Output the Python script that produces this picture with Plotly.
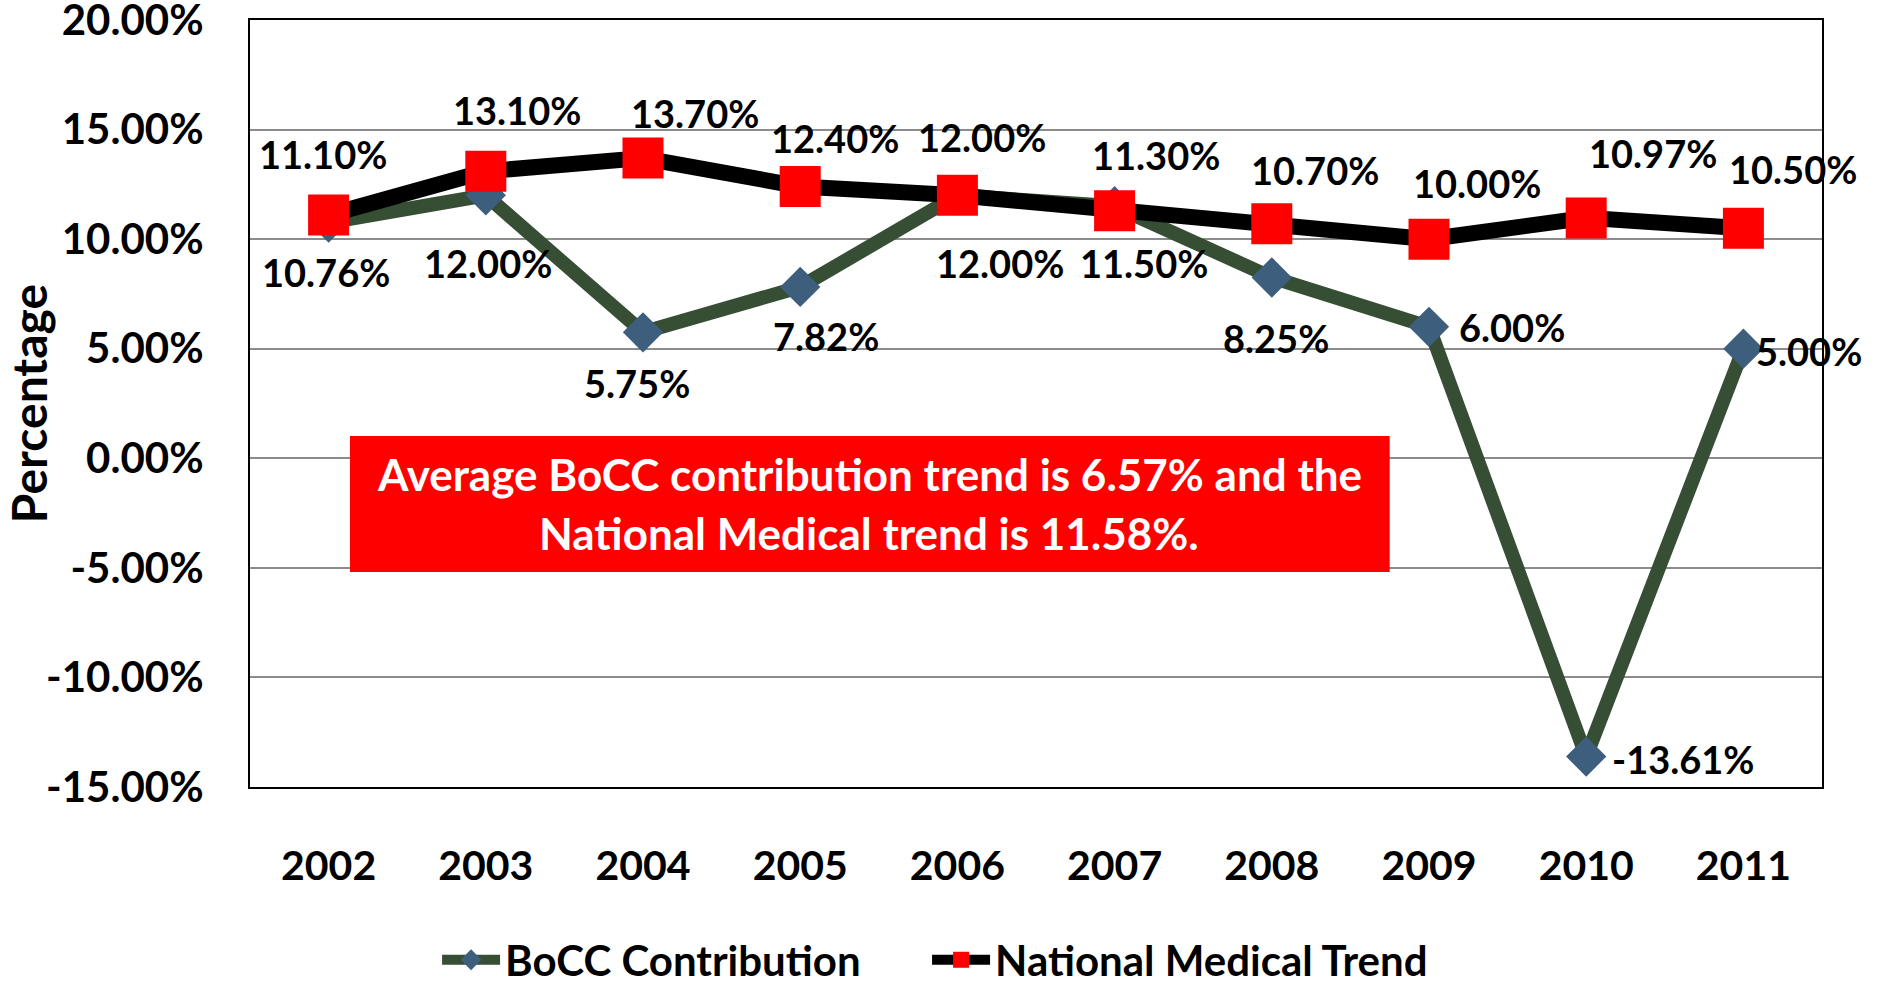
import plotly.graph_objects as go

years = [2002, 2003, 2004, 2005, 2006, 2007, 2008, 2009, 2010, 2011]
bocc = [10.76, 12.00, 5.75, 7.82, 12.00, 11.50, 8.25, 6.00, -13.61, 5.00]
national = [11.10, 13.10, 13.70, 12.40, 12.00, 11.30, 10.70, 10.00, 10.97, 10.50]
y_ticks = [-15, -10, -5, 0, 5, 10, 15, 20]

# label offsets (pixels) relative to each point
nat_dx = [-6, 31, 52, 35, 25, 41, 43, 48, 67, 50]
nat_dy = [61, 61, 45, 49, 58, 56, 54, 56, 65, 59]
bocc_dx = [-3, 2, -6, 26, 43, 29, 4, 83, 97, 66]
bocc_dy = [-50, -68, -51, -49, -68, -57, -61, 0, -2, -2]

FONT = "Lato"
LEG_FONT = dict(family=FONT, size=42, color="black", weight="bold")

fig = go.Figure()
fig.add_trace(go.Scatter(
    x=years, y=bocc, name="BoCC Contribution", mode="lines+markers",
    line=dict(color="#364E33", width=14),
    marker=dict(symbol="diamond", size=31, color="#3E5E7E"),
    cliponaxis=False, legend="legend",
))
fig.add_trace(go.Scatter(
    x=years, y=national, name="National Medical Trend", mode="lines+markers",
    line=dict(color="#000000", width=16),
    marker=dict(symbol="square", size=41, color="#FF0000"),
    cliponaxis=False, legend="legend2",
))

annotations = []
for i, (yr, v) in enumerate(zip(years, national)):
    annotations.append(dict(x=yr, y=v, xref="x", yref="y", text=f"{v:.2f}%", showarrow=False,
                            xshift=nat_dx[i], yshift=nat_dy[i],
                            font=dict(family=FONT, size=38, color="black", weight="bold")))
for i, (yr, v) in enumerate(zip(years, bocc)):
    annotations.append(dict(x=yr, y=v, xref="x", yref="y", text=f"{v:.2f}%", showarrow=False,
                            xshift=bocc_dx[i], yshift=bocc_dy[i],
                            font=dict(family=FONT, size=38, color="black", weight="bold")))

annotations.append(dict(xref="paper", yref="paper", x=0.394, y=0.369,
                        text="Average BoCC contribution trend is 6.57% and the",
                        showarrow=False, yshift=30,
                        font=dict(family=FONT, size=44, color="white", weight="bold")))
annotations.append(dict(xref="paper", yref="paper", x=0.394, y=0.369,
                        text="National Medical trend is 11.58%.",
                        showarrow=False, yshift=-29,
                        font=dict(family=FONT, size=44, color="white", weight="bold")))

fig.update_layout(
    width=1879, height=986,
    margin=dict(l=250, r=57, t=20, b=199, autoexpand=False),
    paper_bgcolor="white", plot_bgcolor="white",
    font=dict(family=FONT, color="black", weight="bold"),
    shapes=[dict(type="rect", xref="paper", yref="paper",
                 x0=0.0636, x1=0.725, y0=0.2803, y1=0.4576,
                 fillcolor="#FF0000", line=dict(width=0), layer="above")],
    annotations=annotations,
    showlegend=True,
    legend=dict(orientation="h", x=0.119, xanchor="left", y=-0.2255, yanchor="middle",
                font=LEG_FONT, itemwidth=58, bgcolor="rgba(0,0,0,0)"),
    legend2=dict(orientation="h", x=0.4307, xanchor="left", y=-0.2255, yanchor="middle",
                 font=LEG_FONT, itemwidth=58, bgcolor="rgba(0,0,0,0)"),
    xaxis=dict(range=[2001.5, 2011.5], tickvals=years, ticktext=[str(y) for y in years],
               showgrid=False, zeroline=False, automargin=False,
               showline=True, linecolor="black", linewidth=2, mirror=True,
               ticks="", ticklabelstandoff=42,
               tickfont=dict(family=FONT, size=41, weight="bold")),
    yaxis=dict(range=[-15, 20], tickvals=y_ticks,
               ticktext=[f"{t:.2f}%" for t in y_ticks],
               showgrid=True, gridcolor="#8c8c8c", gridwidth=1.5,
               zeroline=False, automargin=False, ticklabeloverflow="allow",
               showline=True, linecolor="black", linewidth=2, mirror=True,
               ticks="", ticklabelstandoff=36,
               tickfont=dict(family=FONT, size=42, weight="bold"),
               title=dict(text="Percentage", standoff=26,
                          font=dict(family=FONT, size=48, weight="bold"))),
)

fig.write_html("out.html", config={"displayModeBar": False},
               post_script="document.body.style.margin='0';document.body.style.overflow='hidden';")
